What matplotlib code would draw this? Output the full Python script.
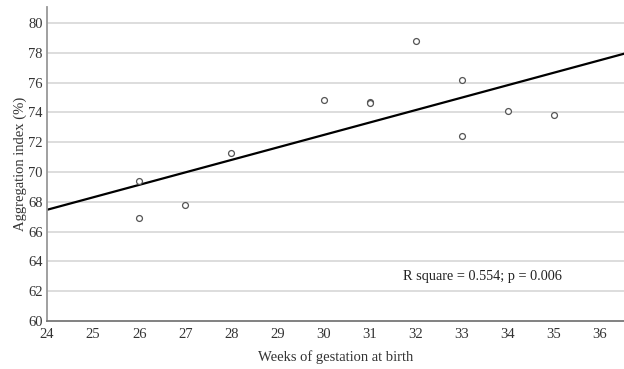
import numpy as np
import matplotlib.pyplot as plt

# gestational age at birth (weeks) and aggregation index (%)
weeks = np.array([26, 26, 27, 28, 30, 31, 31, 32, 33, 33, 34, 35])
agg_index = np.array([69.4, 66.9, 67.8, 71.3, 74.8, 74.7, 74.6, 78.8, 76.2, 72.4, 74.1, 73.8])
stats_text = "R square = 0.554; p = 0.006"

plt.rcParams['font.family'] = ['Liberation Serif', 'DejaVu Serif']

fig = plt.figure(figsize=(6.24, 3.69), dpi=100)
ax = fig.add_axes([0.0753, 0.130, 0.9247, 0.851])

xmin, xmax = 24, 36.52
ax.set_xlim(xmin, xmax)
ax.set_ylim(60, 81.07)

# horizontal grid lines
for y in range(62, 81, 2):
    ax.axhline(y, color='#dadada', lw=1.3, zorder=0)

ax.scatter(weeks, agg_index, s=18, facecolors='white', edgecolors='#555555',
           linewidths=0.9, zorder=3)

# least-squares fit line across the whole x range
slope, intercept = np.polyfit(weeks, agg_index, 1)
xs = np.array([xmin, xmax])
ax.plot(xs, slope * xs + intercept, color='black', lw=1.6, zorder=2)

ax.text(31.72, 63, stats_text, ha='left', va='center', fontsize=10.3, color='#222222')

ax.set_xticks(range(24, 37))
ax.set_yticks(range(60, 81, 2))
ax.tick_params(length=0, labelsize=10.5, labelcolor='#333333')
ax.tick_params(axis='y', pad=3)
ax.tick_params(axis='x', pad=5)

for side in ['top', 'right']:
    ax.spines[side].set_visible(False)
ax.spines['left'].set_color('#999999')
ax.spines['bottom'].set_color('#777777')
ax.spines['left'].set_linewidth(1.3)
ax.spines['bottom'].set_linewidth(1.3)

ax.set_xlabel("Weeks of gestation at birth", fontsize=10.5, color='#333333', labelpad=7)
ax.set_ylabel("Aggregation index (%)", fontsize=10.5, color='#333333', labelpad=1)

fig.savefig("out.png", dpi=100)
